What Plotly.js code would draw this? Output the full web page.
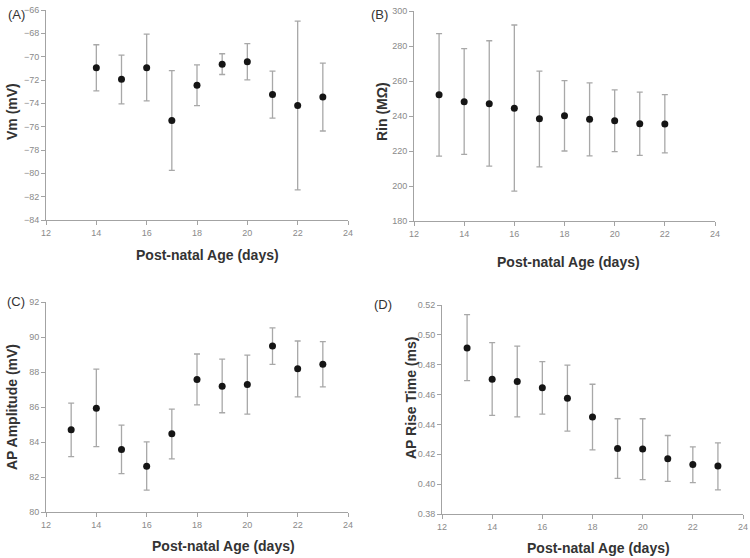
<!DOCTYPE html>
<html>
<head>
<meta charset="utf-8">
<script src="https://cdn.plot.ly/plotly-3.0.1.min.js"></script>
<style>html,body{margin:0;padding:0;background:#fff;}#chart{width:750px;height:558px;}</style>
</head>
<body>
<div id="chart"></div>
<script>
// Panel A: resting membrane potential
const ageA = [14, 15, 16, 17, 18, 19, 20, 21, 22, 23];
const vm = [-70.96, -71.93, -70.96, -75.48, -72.45, -70.64, -70.44, -73.25, -74.19, -73.45];
const vmErrPlus = [1.98, 2.06, 2.90, 4.29, 1.75, 0.89, 1.55, 2.01, 7.24, 2.89];
const vmErrMinus = [1.97, 2.12, 2.83, 4.27, 1.74, 0.89, 1.55, 2.01, 7.23, 2.92];

// Panel B: input resistance
const ageB = [13, 14, 15, 16, 17, 18, 19, 20, 21, 22];
const rin = [252.2, 248.2, 247.0, 244.4, 238.4, 240.1, 238.1, 237.3, 235.6, 235.4];
const rinErrPlus = [34.9, 30.3, 36.0, 47.6, 27.3, 20.1, 20.8, 17.6, 18.1, 16.8];
const rinErrMinus = [35.1, 30.1, 35.6, 47.3, 27.5, 20.1, 20.9, 17.7, 18.1, 16.5];

// Panel C: AP amplitude
const ageC = [13, 14, 15, 16, 17, 18, 19, 20, 21, 22, 23];
const apAmp = [84.70, 85.93, 83.57, 82.62, 84.47, 87.57, 87.19, 87.28, 89.49, 88.18, 88.44];
const apAmpErrPlus = [1.52, 2.23, 1.39, 1.39, 1.41, 1.46, 1.54, 1.68, 1.03, 1.59, 1.30];
const apAmpErrMinus = [1.54, 2.20, 1.38, 1.37, 1.43, 1.45, 1.52, 1.69, 1.05, 1.60, 1.29];

// Panel D: AP rise time
const ageD = [13, 14, 15, 16, 17, 18, 19, 20, 21, 22, 23];
const apRise = [0.4912, 0.4703, 0.4687, 0.4645, 0.4576, 0.4449, 0.4239, 0.4235, 0.4170, 0.4132, 0.4121];
const apRiseErrPlus = [0.0223, 0.0245, 0.0237, 0.0176, 0.0221, 0.0220, 0.0199, 0.0203, 0.0156, 0.0118, 0.0156];
const apRiseErrMinus = [0.0218, 0.0243, 0.0236, 0.0176, 0.0221, 0.0219, 0.0200, 0.0205, 0.0151, 0.0122, 0.0160];

// Titles / labels
const xTitle = 'Post-natal Age (days)';
const yTitles = ['Vm (mV)', 'Rin (MΩ)', 'AP Amplitude (mV)', 'AP Rise Time (ms)'];
const panelLabels = ['(A)', '(B)', '(C)', '(D)'];

const W = 750, H = 558;
const GRAY = '#a3a3a3';
const TICKC = '#8a8a8a';
const FONT = 'Liberation Sans, Arial, sans-serif';

function trace(x, y, ep, em, xa, ya) {
  return {
    x: x, y: y, xaxis: xa, yaxis: ya, type: 'scatter', mode: 'markers',
    marker: {color: '#151515', size: 7},
    error_y: {type: 'data', symmetric: false, array: ep, arrayminus: em,
      color: '#a8a8a8', thickness: 1.3, width: 3},
    showlegend: false, hoverinfo: 'x+y'
  };
}

const data = [
  trace(ageA, vm, vmErrPlus, vmErrMinus, 'x', 'y'),
  trace(ageB, rin, rinErrPlus, rinErrMinus, 'x2', 'y2'),
  trace(ageC, apAmp, apAmpErrPlus, apAmpErrMinus, 'x3', 'y3'),
  trace(ageD, apRise, apRiseErrPlus, apRiseErrMinus, 'x4', 'y4')
];

function xax(l, r, anchor) {
  return {domain: [l / W, r / W], range: [12, 24], dtick: 2, tick0: 12, anchor: anchor,
    showline: true, linecolor: GRAY, linewidth: 1, ticks: 'outside', ticklen: 4,
    tickcolor: GRAY, showgrid: false, zeroline: false,
    tickfont: {family: FONT, size: 9, color: TICKC}};
}
function yax(t, b, range, dtick, anchor, fmt) {
  const o = {domain: [1 - b / H, 1 - t / H], range: range, dtick: dtick, tick0: range[0], anchor: anchor,
    showline: true, linecolor: GRAY, linewidth: 1, ticks: 'outside', ticklen: 4,
    tickcolor: GRAY, showgrid: false, zeroline: false,
    tickfont: {family: FONT, size: 9, color: TICKC}};
  if (fmt) o.tickformat = fmt;
  return o;
}

const ann = [];
function txt(x, y, s, opts) {
  ann.push(Object.assign({x: x / W, y: 1 - y / H, xref: 'paper', yref: 'paper', text: s,
    showarrow: false, xanchor: 'center', yanchor: 'middle',
    font: {family: FONT, size: 14, color: '#333', weight: 'bold'}}, opts || {}));
}
// x titles
txt(207, 255, xTitle);
txt(568, 262, xTitle);
txt(223, 546, xTitle);
txt(598, 548, xTitle);
// y titles
txt(12, 112, yTitles[0], {textangle: -90});
txt(382, 112, yTitles[1], {textangle: -90});
txt(12, 407, yTitles[2], {textangle: -90});
txt(411, 398, yTitles[3], {textangle: -90});
// panel labels
const plab = {family: FONT, size: 13, color: '#333'};
txt(16, 14, panelLabels[0], {font: plab});
txt(379, 14, panelLabels[1], {font: plab});
txt(16, 301, panelLabels[2], {font: plab});
txt(383, 304, panelLabels[3], {font: plab});

const layout = {
  width: W, height: H, margin: {l: 0, r: 0, t: 0, b: 0},
  paper_bgcolor: '#fff', plot_bgcolor: '#fff',
  font: {family: FONT},
  xaxis: xax(46, 348, 'y'),
  yaxis: yax(10, 220, [-84, -66], 2, 'x'),
  xaxis2: xax(414, 715, 'y2'),
  yaxis2: yax(11, 221, [180, 300], 20, 'x2'),
  xaxis3: xax(46, 348, 'y3'),
  yaxis3: yax(302, 512, [80, 92], 2, 'x3'),
  xaxis4: xax(442, 743, 'y4'),
  yaxis4: yax(305, 514, [0.38, 0.52], 0.02, 'x4', '.2f'),
  annotations: ann
};

Plotly.newPlot('chart', data, layout, {displayModeBar: false, staticPlot: true});
</script>
</body>
</html>
